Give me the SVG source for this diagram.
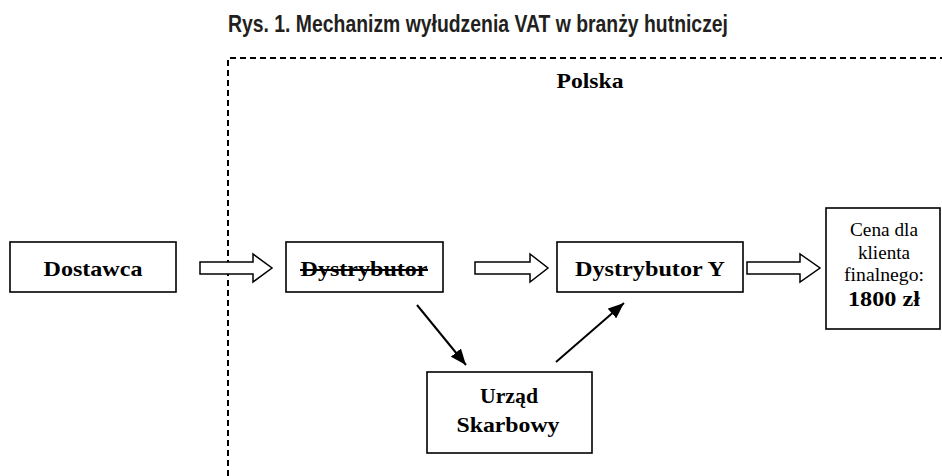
<svg xmlns="http://www.w3.org/2000/svg" width="942" height="476" viewBox="0 0 942 476">
<defs>
<style>
.box{fill:#fff;stroke:#000;stroke-width:1.6}
.hollow{fill:#fff;stroke:#000;stroke-width:1.5;stroke-linejoin:miter}
.lbl{font-weight:bold;font-size:22px;fill:#000;text-anchor:middle}
.reg{font-size:19px;fill:#000;text-anchor:middle}
.conn{stroke:#000;stroke-width:2;fill:none}
</style>
<marker id="ah2" viewBox="0 0 16 13" refX="16" refY="6.5" markerWidth="16" markerHeight="13" markerUnits="userSpaceOnUse" orient="auto">
<path d="M0,0 L16,6.5 L0,13 z" fill="#000"/>
</marker>
</defs>
<rect width="942" height="476" fill="#fff"/>
<text x="228" y="32" font-family="Liberation Sans, Arial, sans-serif" font-weight="bold" font-size="24" fill="#231f20" textLength="500" lengthAdjust="spacingAndGlyphs">Rys. 1. Mechanizm wyłudzenia VAT w branży hutniczej</text>
<g id="polska">
<path d="M228,476 L228,58 L942,58" fill="none" stroke="#000" stroke-width="2" stroke-dasharray="6,4"/>
<text class="lbl" font-family="Liberation Serif, Times New Roman, serif" x="590" y="88" textLength="67" lengthAdjust="spacingAndGlyphs">Polska</text>
</g>
<g id="dostawca">
<rect class="box" x="10" y="242" width="166" height="50"/>
<text class="lbl" font-family="Liberation Serif, Times New Roman, serif" x="93" y="276" textLength="99" lengthAdjust="spacingAndGlyphs">Dostawca</text>
</g>
<g id="dystrybutor">
<rect class="box" x="286" y="242" width="157" height="50"/>
<text class="lbl" font-family="Liberation Serif, Times New Roman, serif" x="364" y="276" textLength="127" lengthAdjust="spacingAndGlyphs">Dystrybutor</text>
<line x1="300" y1="270" x2="428" y2="270" stroke="#000" stroke-width="2"/>
</g>
<g id="dystrybutor-y">
<rect class="box" x="557" y="242" width="186" height="50"/>
<text class="lbl" font-family="Liberation Serif, Times New Roman, serif" x="650" y="276" textLength="150" lengthAdjust="spacingAndGlyphs">Dystrybutor Y</text>
</g>
<g id="cena">
<rect class="box" x="826" y="208" width="114" height="121"/>
<text class="reg" font-family="Liberation Serif, Times New Roman, serif" x="884" y="236" textLength="68" lengthAdjust="spacingAndGlyphs">Cena dla</text>
<text class="reg" font-family="Liberation Serif, Times New Roman, serif" x="884" y="259" textLength="52" lengthAdjust="spacingAndGlyphs">klienta</text>
<text class="reg" font-family="Liberation Serif, Times New Roman, serif" x="884" y="281" textLength="80" lengthAdjust="spacingAndGlyphs">finalnego:</text>
<text class="lbl" font-family="Liberation Serif, Times New Roman, serif" x="884" y="306" textLength="72" lengthAdjust="spacingAndGlyphs">1800 zł</text>
</g>
<g id="urzad">
<rect class="box" x="427" y="372" width="165" height="81"/>
<text class="lbl" font-family="Liberation Serif, Times New Roman, serif" x="509" y="403" textLength="58" lengthAdjust="spacingAndGlyphs">Urząd</text>
<text class="lbl" font-family="Liberation Serif, Times New Roman, serif" x="508" y="432" textLength="103" lengthAdjust="spacingAndGlyphs">Skarbowy</text>
</g>
<g id="connectors">
<polygon class="hollow" points="200,262 253,262 253,254 272,268 253,282 253,274 200,274"/>
<polygon class="hollow" points="475,262 530,262 530,254 548,268 530,282 530,274 475,274"/>
<polygon class="hollow" points="747,262 800,262 800,254 820,268 800,282 800,274 747,274"/>
<line class="conn" x1="417" y1="305" x2="466" y2="365" marker-end="url(#ah2)"/>
<line class="conn" x1="556" y1="362" x2="624" y2="303" marker-end="url(#ah2)"/>
</g>
</svg>
